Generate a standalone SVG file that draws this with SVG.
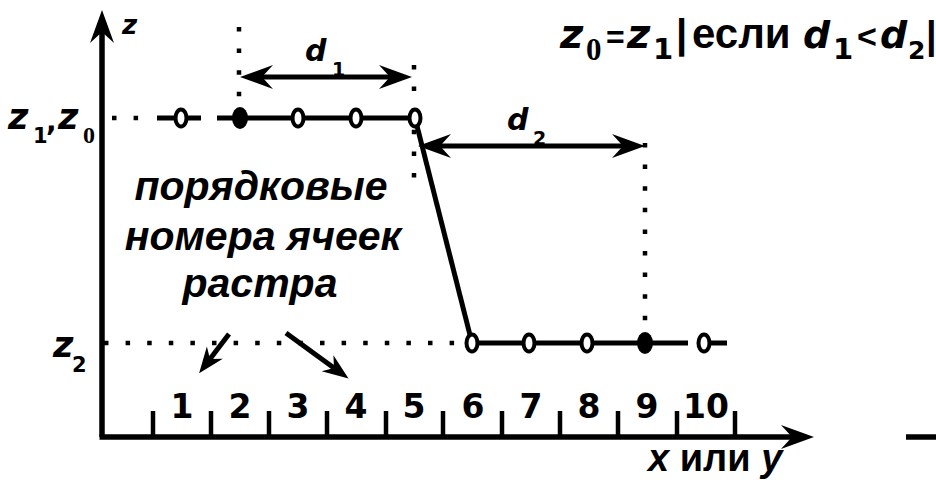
<svg xmlns="http://www.w3.org/2000/svg" width="936" height="480" viewBox="0 0 936 480">
<defs>
<style>
.ln{stroke:#000;fill:none;stroke-width:5}
.ax{stroke:#000;fill:none;stroke-width:5.5}
.dot{stroke:#000;fill:none;stroke-width:4.5;stroke-dasharray:4.5 17.1}
.tk{stroke:#000;stroke-width:4.5}
.ho{fill:#fff;stroke:#000;stroke-width:4}
.fi{fill:#000}
.it{font-family:"DejaVu Sans",sans-serif;font-weight:bold;font-style:italic;fill:#000}
.sb{font-family:"DejaVu Sans",sans-serif;font-weight:bold;fill:#000}
.ai{font-family:"Liberation Sans",Arial,sans-serif;font-weight:bold;font-style:italic;fill:#000}
.bd{font-family:"Liberation Sans",Arial,sans-serif;font-weight:bold;fill:#000}
.sr{font-family:"Liberation Serif","Times New Roman",serif;font-weight:bold;fill:#000}
.num{font-family:"DejaVu Sans",sans-serif;font-weight:bold;font-size:33px;fill:#000;text-anchor:middle}
</style>
<marker id="ah" markerUnits="userSpaceOnUse" viewBox="-12 -14 36 28" refX="0" refY="0" markerWidth="36" markerHeight="28" orient="auto-start-reverse">
<path d="M22,0 L-11,-12 L0,0 L-11,12 Z" fill="#000"/>
</marker>
<marker id="ahs" markerUnits="userSpaceOnUse" viewBox="-10 -11 30 22" refX="0" refY="0" markerWidth="30" markerHeight="22" orient="auto">
<path d="M18,0 L-8,-10 L0,0 L-8,10 Z" fill="#000"/>
</marker>
</defs>
<rect width="936" height="480" fill="#fff"/>

<g id="axes">
<line class="ax" x1="102" y1="437" x2="102" y2="32" marker-end="url(#ah)"/>
<line class="ax" x1="99.5" y1="437" x2="792" y2="437" marker-end="url(#ah)"/>
<line class="ax" x1="906" y1="437" x2="936" y2="437"/>
<g class="tk">
<line x1="153" y1="411" x2="153" y2="437"/>
<line x1="211" y1="411" x2="211" y2="437"/>
<line x1="269" y1="411" x2="269" y2="437"/>
<line x1="327" y1="411" x2="327" y2="437"/>
<line x1="386" y1="411" x2="386" y2="437"/>
<line x1="443" y1="411" x2="443" y2="437"/>
<line x1="502" y1="411" x2="502" y2="437"/>
<line x1="560" y1="411" x2="560" y2="437"/>
<line x1="618" y1="411" x2="618" y2="437"/>
<line x1="677" y1="411" x2="677" y2="437"/>
<line x1="735" y1="411" x2="735" y2="437"/>
</g>
</g>

<g id="connectors">
<path class="dot" d="M112,118 H150"/>
<path class="dot" d="M104,343 H462"/>
<path class="dot" d="M239,27 V112"/>
<path class="dot" d="M414,65 V180"/>
<path class="dot" d="M645,143 V330"/>
<line class="ln" x1="262" y1="77" x2="390" y2="77" marker-start="url(#ah)" marker-end="url(#ah)"/>
<line class="ln" x1="440" y1="146" x2="623" y2="146" marker-start="url(#ah)" marker-end="url(#ah)"/>
<line class="ln" x1="229" y1="334" x2="210" y2="359" marker-end="url(#ahs)"/>
<line class="ln" x1="286" y1="333" x2="334" y2="368" marker-end="url(#ahs)"/>
</g>

<g id="profile-upper">
<path class="ln" d="M157,118 H201 M217,118 H415"/>
<ellipse class="ho" cx="181" cy="118" rx="5.5" ry="8.5"/>
<ellipse class="fi" cx="240" cy="118" rx="8" ry="11"/>
<ellipse class="ho" cx="298" cy="118" rx="5.5" ry="8.5"/>
<ellipse class="ho" cx="356" cy="118" rx="5.5" ry="8.5"/>
</g>
<g id="profile-slope">
<path class="ln" d="M415,118 L472,343"/>
<ellipse class="ho" cx="415" cy="118" rx="5.5" ry="8.5"/>
</g>
<g id="profile-lower">
<path class="ln" d="M472,343 H688 M704,343 H727"/>
<ellipse class="ho" cx="472" cy="343" rx="5.5" ry="8.5"/>
<ellipse class="ho" cx="529" cy="343" rx="5.5" ry="8.5"/>
<ellipse class="ho" cx="587" cy="343" rx="5.5" ry="8.5"/>
<ellipse class="fi" cx="645" cy="343" rx="8" ry="11"/>
<ellipse class="ho" cx="704" cy="343" rx="5.5" ry="8.5"/>
</g>

<g id="numbers">
<text class="num" x="182" y="418">1</text>
<text class="num" x="240" y="418">2</text>
<text class="num" x="298" y="418">3</text>
<text class="num" x="356" y="418">4</text>
<text class="num" x="414" y="418">5</text>
<text class="num" x="473" y="418">6</text>
<text class="num" x="531" y="418">7</text>
<text class="num" x="589" y="418">8</text>
<text class="num" x="647" y="418">9</text>
<text class="num" x="706" y="418">10</text>
</g>

<g id="labels">
<text class="it" x="122" y="34" font-size="26">z</text>
<text class="it" x="8" y="129" font-size="35">z</text>
<text class="sb" x="33" y="143" font-size="21">1</text>
<text class="sb" x="46" y="131" font-size="28">,</text>
<text class="it" x="58" y="129" font-size="35">z</text>
<text class="sr" x="83" y="143" font-size="24">0</text>
<text class="it" x="53" y="357" font-size="35">z</text>
<text class="sb" x="72" y="372" font-size="21">2</text>
<text class="it" x="305" y="61" font-size="30">d</text>
<text class="sb" x="332" y="76" font-size="19">1</text>
<text class="it" x="507" y="130" font-size="30">d</text>
<text class="sb" x="533" y="145" font-size="19">2</text>
<text class="bd" x="648" y="471" font-size="38"><tspan font-style="italic">x</tspan> или <tspan font-style="italic">y</tspan></text>
</g>

<g id="caption">
<text class="ai" font-size="41" text-anchor="middle"><tspan x="261" y="200">порядковые</tspan><tspan x="263" y="250">номера ячеек</tspan><tspan x="260" y="297">растра</tspan></text>
</g>

<g id="condition">
<text class="it" x="560" y="48" font-size="40">z</text>
<text class="sr" x="586" y="60" font-size="31">0</text>
<text class="bd" x="606" y="48" font-size="32">=</text>
<text class="it" x="627" y="48" font-size="40">z</text>
<text class="sb" x="653" y="59" font-size="29">1</text>
<text class="bd" x="676" y="48" font-size="40">|</text>
<text class="bd" x="692" y="48" font-size="42">если</text>
<text class="it" x="803" y="48" font-size="38">d</text>
<text class="sb" x="833" y="59" font-size="29">1</text>
<text class="bd" x="857" y="48" font-size="34">&lt;</text>
<text class="it" x="880" y="48" font-size="38">d</text>
<text class="sb" x="908" y="59" font-size="25">2</text>
<text class="bd" x="926" y="48" font-size="38">|</text>
</g>
</svg>
